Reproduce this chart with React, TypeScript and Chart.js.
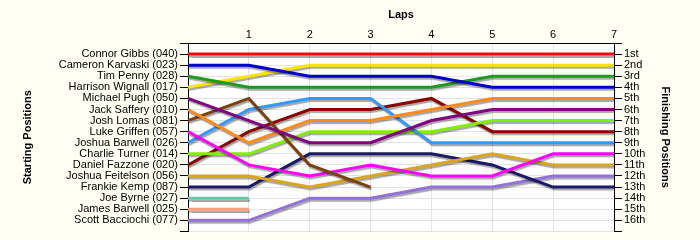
import React, { useEffect, useRef } from 'react';
import { Chart, registerables } from 'chart.js';

Chart.register(...registerables);

const laps = [0, 1, 2, 3, 4, 5, 6, 7];
const lapTickLabels = ['', '1', '2', '3', '4', '5', '6', '7'];

const startingNames = [
  'Connor Gibbs (040)',
  'Cameron Karvaski (023)',
  'Tim Penny (028)',
  'Harrison Wignall (017)',
  'Michael Pugh (050)',
  'Jack Saffery (010)',
  'Josh Lomas (081)',
  'Luke Griffen (057)',
  'Joshua Barwell (026)',
  'Charlie Turner (014)',
  'Daniel Fazzone (020)',
  'Joshua Feitelson (056)',
  'Frankie Kemp (087)',
  'Joe Byrne (027)',
  'James Barwell (025)',
  'Scott Bacciochi (077)',
];

const finishingLabels = [
  '1st', '2nd', '3rd', '4th', '5th', '6th', '7th', '8th',
  '9th', '10th', '11th', '12th', '13th', '14th', '15th', '16th',
];

// positions at lap 0..7 (null = retired)
const connorGibbs = [1, 1, 1, 1, 1, 1, 1, 1];
const cameronKarvaski = [2, 2, 3, 3, 3, 4, 4, 4];
const timPenny = [3, 4, 4, 4, 4, 3, 3, 3];
const harrisonWignall = [4, 3, 2, 2, 2, 2, 2, 2];
const michaelPugh = [5, 7, 9, 9, 7, 6, 6, 6];
const jackSaffery = [6, 9, 7, 7, 6, 5, 5, 5];
const joshLomas = [7, 5, 11, 13, null, null, null, null];
const lukeGriffen = [8, 11, 12, 11, 12, 12, 10, 10];
const joshuaBarwell = [9, 6, 5, 5, 9, 9, 9, 9];
const charlieTurner = [10, 10, 8, 8, 8, 7, 7, 7];
const danielFazzone = [11, 8, 6, 6, 5, 8, 8, 8];
const joshuaFeitelson = [12, 12, 13, 12, 11, 10, 11, 11];
const frankieKemp = [13, 13, 10, 10, 10, 11, 13, 13];
const joeByrne = [14, 14, null, null, null, null, null, null];
const jamesBarwell = [15, 15, null, null, null, null, null, null];
const scottBacciochi = [16, 16, 14, 14, 13, 13, 12, 12];

const seriesValues = [
  connorGibbs, cameronKarvaski, timPenny, harrisonWignall, michaelPugh,
  jackSaffery, joshLomas, lukeGriffen, joshuaBarwell, charlieTurner,
  danielFazzone, joshuaFeitelson, frankieKemp, joeByrne, jamesBarwell, scottBacciochi,
];

const seriesColors = [
  '#ff0000', '#0000cc', '#1e9b1e', '#ffe400', '#800080',
  '#ff8c1a', '#7a4010', '#ff00ff', '#3399ff', '#80f000',
  '#8b0000', '#daa520', '#191966', '#66c8aa', '#ffa07a', '#9370db',
];

const FONT = "'Liberation Sans', Arial, sans-serif";
const OUTER_BG = '#fffff4';

const bgPlugin = {
  id: 'bgPlugin',
  beforeDraw(chart: any) {
    const { ctx, chartArea } = chart;
    ctx.save();
    ctx.fillStyle = OUTER_BG;
    ctx.fillRect(0, 0, chart.width, chart.height);
    ctx.fillStyle = '#ffffff';
    ctx.fillRect(chartArea.left, chartArea.top, chartArea.right - chartArea.left, chartArea.bottom - chartArea.top);
    ctx.restore();
  },
};

const shadowPlugin = {
  id: 'shadowPlugin',
  beforeDatasetDraw(chart: any) {
    const ctx = chart.ctx;
    ctx.save();
    ctx.shadowColor = 'rgba(0,0,0,0.35)';
    ctx.shadowOffsetX = 1;
    ctx.shadowOffsetY = 2;
    ctx.shadowBlur = 1;
  },
  afterDatasetDraw(chart: any) {
    chart.ctx.restore();
  },
};

export default function App() {
  const canvasRef = useRef<HTMLCanvasElement | null>(null);

  useEffect(() => {
    document.body.style.margin = '0';
    document.body.style.background = OUTER_BG;
    const canvas = canvasRef.current;
    if (!canvas) return;

    const datasets = seriesValues.map((vals, i) => ({
      label: startingNames[i],
      data: laps.map((x, j) => ({ x, y: vals[j] })),
      borderColor: seriesColors[i],
      backgroundColor: seriesColors[i],
      borderWidth: 3,
      pointRadius: 0,
      tension: 0,
      fill: false,
      spanGaps: false,
    }));

    const chart = new Chart(canvas, {
      type: 'line',
      data: { datasets },
      plugins: [bgPlugin, shadowPlugin],
      options: {
        animation: false,
        responsive: true,
        maintainAspectRatio: false,
        layout: { padding: { left: 0, right: 0, top: 0, bottom: 7 } },
        plugins: { legend: { display: false }, tooltip: { enabled: false } },
        font: { family: FONT, size: 11 },
        color: '#000',
        scales: {
          x: {
            type: 'linear',
            position: 'top',
            min: 0,
            max: 7,
            afterFit: (s: any) => { s.height = 43; },
            ticks: {
              stepSize: 1,
              padding: 1,
              color: '#000',
              font: { family: FONT, size: 11 },
              callback: (v: any) => lapTickLabels[Number(v)] ?? '',
            },
            grid: { color: '#e4e4e4', drawTicks: false, lineWidth: 1 },
            border: { display: true, color: '#000', width: 1 },
            title: {
              display: true,
              text: 'Laps',
              color: '#000',
              font: { family: FONT, size: 11, weight: 'bold' },
              padding: { top: 8, bottom: 0 },
            },
          },
          y: {
            type: 'linear',
            position: 'left',
            reverse: true,
            min: 0,
            max: 17,
            afterFit: (s: any) => { s.width = 188; },
            ticks: {
              stepSize: 1,
              padding: 2,
              color: '#000',
              autoSkip: false,
              font: { family: FONT, size: 11 },
              callback: (v: any) => startingNames[Number(v) - 1] ?? '',
            },
            grid: { color: '#e4e4e4', tickColor: '#000', tickLength: 8, lineWidth: 1 },
            border: { display: true, color: '#000', width: 1 },
            title: {
              display: true,
              text: 'Starting Positions',
              color: '#000',
              font: { family: FONT, size: 11, weight: 'bold' },
              padding: { top: 21, bottom: 0 },
            },
          },
          y2: {
            type: 'linear',
            position: 'right',
            reverse: true,
            min: 0,
            max: 17,
            afterFit: (s: any) => { s.width = 86; },
            ticks: {
              stepSize: 1,
              padding: 2,
              color: '#000',
              autoSkip: false,
              font: { family: FONT, size: 11 },
              callback: (v: any) => finishingLabels[Number(v) - 1] ?? '',
            },
            grid: { drawOnChartArea: false, color: '#000', tickColor: '#000', tickLength: 8 },
            border: { display: true, color: '#000', width: 1 },
            title: {
              display: true,
              text: 'Finishing Positions',
              color: '#000',
              font: { family: FONT, size: 11, weight: 'bold' },
              padding: { top: 28, bottom: 0 },
            },
          },
        },
      } as any,
    });

    return () => chart.destroy();
  }, []);

  return (
    <div style={{ position: 'relative', width: 700, height: 240 }}>
      <canvas ref={canvasRef} />
    </div>
  );
}
